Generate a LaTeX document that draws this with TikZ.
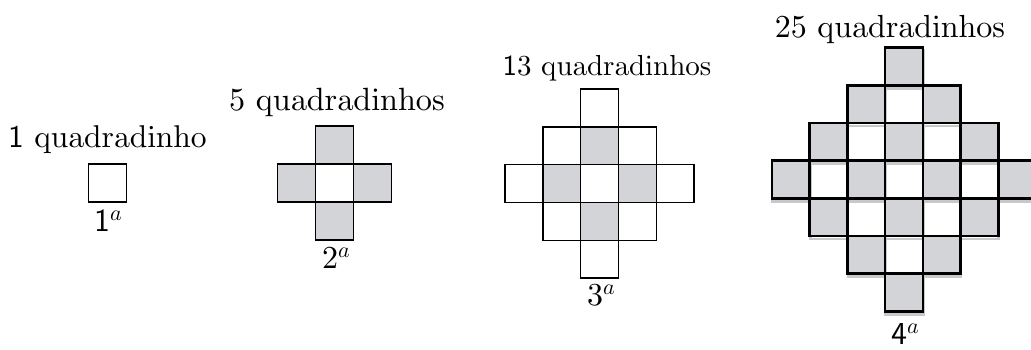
\documentclass[tikz,border=0pt]{standalone}
\definecolor{sqgray}{RGB}{211,212,215}
\definecolor{shadowgray}{RGB}{200,200,203}
\font\rmA=cmr10 at 31.5pt
\font\ssA=cmss10 at 31.5pt
\font\rmB=cmr10 at 32.2pt
\font\rmC=cmr10 at 29pt
\font\ssC=cmss10 at 29pt
\font\rmD=cmr10 at 32pt
\font\rmL=cmr10 at 32pt
\font\ssL=cmss10 at 32pt
\font\itS=cmmi10 at 22pt
\newcommand\ordsup{\raisebox{11pt}{\itS a}}
\newcommand\sqdiamond[6]{% #1 cx, #2 cy, #3 size, #4 n, #5 line width, #6 shadow (0/1)
  \ifnum#6=1
    \foreach \i in {-#4,...,#4}{\foreach \j in {-#4,...,#4}{%
      \pgfmathtruncatemacro\dd{abs(\i)+abs(\j)}%
      \ifnum\dd>#4\relax\else
        \draw[shadowgray, line width=#5] ({#1+(\i-0.5)*#3+0.5},{#2+(\j-0.5)*#3+3}) rectangle ++(#3,#3);
      \fi}}
  \fi
  \foreach \i in {-#4,...,#4}{\foreach \j in {-#4,...,#4}{%
    \pgfmathtruncatemacro\dd{abs(\i)+abs(\j)}%
    \pgfmathtruncatemacro\pty{mod(\dd,2)}%
    \ifnum\dd>#4\relax\else
      \ifnum\pty=1
        \fill[sqgray] ({#1+(\i-0.5)*#3},{#2+(\j-0.5)*#3}) rectangle ++(#3,#3);
      \fi
    \fi}}
  \foreach \i in {-#4,...,#4}{\foreach \j in {-#4,...,#4}{%
    \pgfmathtruncatemacro\dd{abs(\i)+abs(\j)}%
    \ifnum\dd>#4\relax\else
      \draw[black, line width=#5] ({#1+(\i-0.5)*#3},{#2+(\j-0.5)*#3}) rectangle ++(#3,#3);
    \fi}}
}
\begin{document}
\begin{tikzpicture}[x=1pt,y=-1pt,
  title/.style={anchor=base, inner sep=0pt},
  ordlabel/.style={anchor=base, inner sep=0pt}]
\useasboundingbox (0,0) rectangle (1031,349);
\clip (0,0) rectangle (1031,349);
% figure 1
\sqdiamond{107.5}{183}{38}{0}{1.4pt}{0}
\node[title] (t1) at (107.5,147) {\ssA 1\rmA{} quadradinho};
\node[ordlabel] (l1) at (108,231) {\ssL 1\ordsup};
% figure 2
\sqdiamond{334.5}{183}{38}{1}{1.4pt}{0}
\node[title] (t2) at (337,110) {\rmB 5 quadradinhos};
\node[ordlabel] (l2) at (336,268) {\rmL 2\ordsup};
% figure 3
\sqdiamond{599.5}{183.5}{37.8}{2}{1.4pt}{0}
\node[title] (t3) at (607,75) {\ssC 1\rmC 3 quadradinhos};
\node[ordlabel] (l3) at (601,305) {\rmL 3\ordsup};
% figure 4
\sqdiamond{904}{179.5}{37.7}{3}{2.6pt}{1}
\node[title] (t4) at (890,37) {\rmD 25 quadradinhos};
\node[ordlabel] (l4) at (905,344) {\ssL 4\ordsup};
\end{tikzpicture}
\end{document}
